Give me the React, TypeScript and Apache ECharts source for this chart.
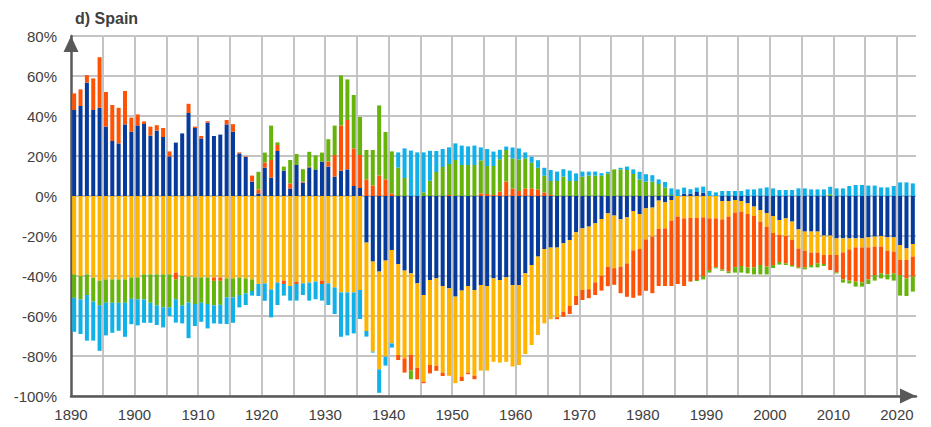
import React, { useEffect, useRef } from "react";
import * as echarts from "echarts";

const startYear = 1890;
const endYear = 2022;
const years: number[] = Array.from({ length: endYear - startYear + 1 }, (_, i) => startYear + i);

const xTickLabels = ["1890", "1900", "1910", "1920", "1930", "1940", "1950", "1960", "1970", "1980", "1990", "2000", "2010", "2020"];

// dark blue component
const blueVals = [
  43, 45, 56.7, 43, 44.2, 34.7, 27.5, 26.3, 35.8, 32.2,
  35.3, 36, 30.2, 32.7, 29.5, 19.8, 26.7, 31.3, 41.5, 34,
  28.8, 36.7, 30, 30.7, 35.8, 32.2, 21.3, 19.5, 7.2, 1.3,
  14.2, 9.2, 22.5, 12.7, 3.8, 15.5, 6.7, 14.3, 13.3, 17.2,
  14.7, 9.7, 12.7, 13.3, 5, 4, -23.3, -32.8, -37.8, -32.3,
  -27, -34, -37.3, -38.7, -43.7, -49.5, -42, -41.2, -45, -46.2,
  -50.3, -47.3, -45, -47, -44.5, -45, -41.2, -42, -40.7, -44.5,
  -44.5, -38.7, -34.5, -30.3, -26.5, -25.8, -25.8, -23.7, -22, -18.2,
  -16.2, -15.3, -13.7, -11.5, -8.7, -9.8, -11.7, -10.7, -7.5, -9,
  -6.2, -5.8, -2.3, -3.2, -2, 0, 1.2, 1.2, 2, 1.7,
  0, 0, -2.5, -2.5, -2, -2.5, -3.7, -5.3, -7, -8.5,
  -10, -12, -11.2, -12.8, -16.7, -17.8, -17.8, -17.8, -19.8, -19.8,
  -21.2, -21.2, -21.2, -21.2, -21.2, -20.7, -20.3, -20, -20.7, -20.7,
  -24.5, -26.2, -24,
];

// yellow component
const yellowVals = [
  -39.2, -40, -39.2, -40.8, -42.3, -41.7, -41.7, -41.7, -41.7, -40.7,
  -40.7, -39.2, -39.2, -39.2, -39.2, -39.2, -38.3, -40, -40.3, -40.7,
  -40.7, -40.7, -40.7, -40.7, -41.2, -41.2, -40.7, -41.2, -41.7, -44,
  -43.7, -46.7, -43.3, -42.3, -45, -42.8, -43.7, -43.3, -42.8, -42.3,
  -43.7, -45.7, -48.2, -48.2, -48.2, -47, -44.2, -45, -48.9, -48,
  -46.7, -45.5, -43.9, -40.8, -42.2, -43.3, -42.5, -43.7, -43.3, -43.7,
  -43.3, -43, -43.3, -42.8, -42.8, -42.3, -41.7, -41.3, -42.2, -40.8,
  -40, -40.3, -40, -39.2, -37.2, -35.8, -34.8, -34.2, -33, -31.8,
  -30.8, -31.3, -29.5, -28.3, -26.7, -26.3, -23.6, -23, -19.7, -17.5,
  -15.5, -14.5, -14.2, -13, -10.3, -10.3, -11.2, -11, -11, -10.7,
  -11.2, -11.2, -9.2, -7.8, -6.3, -5.3, -5.3, -4.7, -5.8, -7,
  -8.5, -7.5, -8.8, -9.2, -9.6, -9.5, -10.5, -10.5, -9.7, -9.7,
  -8.3, -7, -5.5, -4.5, -4.5, -5, -5, -5.3, -6.6, -7.1,
  -7.5, -5.8, -6.3,
];

// orange-red component
const orangeVals = [
  8.3, 8.3, 3.7, 15.8, 25.2, 17.3, 18, 17.8, 16.7, 7,
  5.5, 1.3, 4.5, 2.7, 4.5, 2.5, -3.3, 0, 4.6, 0.7,
  1.2, 0.7, -1.7, -1.7, 2.2, 3.7, 0.5, 0.3, 3, 2,
  2.5, 8.8, 3, -1.7, 2.5, -1.2, 0.5, 0.3, 0, -1.7,
  2.5, 10.8, 22.6, 24.7, 18.8, 16.5, 8.3, 5.3, 10.3, 8.3,
  1.3, -2.5, -7.1, -7.8, -5.8, -0.8, -4.2, -2.5, -1.7, 0.5,
  0, -2.2, -0.8, -1.8, 1.3, 1, 0.5, 2.2, 7.2, 3.8,
  2.5, 3.8, 3.8, 3.3, 1.8, 0.5, -1, -2.5, -4, -4.5,
  -5, -4.5, -6.3, -7.5, -9.7, -8.3, -13.3, -16.7, -23.7, -23.3,
  -25.7, -28.3, -28.5, -28.8, -32.7, -33.7, -33.8, -31.8, -31, -29.3,
  -25.8, -24.5, -25, -27.5, -27.3, -27.2, -26.7, -25.7, -21.7, -19.8,
  -16, -13.5, -13.7, -12.5, -9.4, -8.4, -6.2, -5.4, -4.5, -7.5,
  -8.7, -13.5, -15.6, -17.1, -17.5, -16, -14.2, -13.4, -11.9, -10.9,
  -7.5, -9.2, -10,
];

// green component
const greenVals = [
  -11.7, -11.7, -10.3, -12, -12.3, -11.7, -11.7, -11.7, -11.7, -10.7,
  -11, -12.5, -14.2, -15.5, -16.5, -16.5, -10, -14.7, -13, -13.3,
  -12.7, -13.3, -12.3, -12, -9.5, -9.5, -8.8, -7.5, -5.8, 8.8,
  5, 17.2, 1.3, 2, 11.7, 5.5, 6.2, 7.5, 7, 4.5,
  11.2, 14.7, 25, 20.3, 26.7, 19, 14.7, 17.7, 35, 23.7,
  21, 14.2, 9, -4.3, 0, 1.8, 7.6, 12, 14.5, 15.5,
  18, 15.5, 15.5, 15.5, 16.5, 14, 14.5, 16.2, 15.8, 15,
  15.8, 15, 12.8, 10.8, 8.3, 7, 7.5, 9.7, 7.5, 7.5,
  9.7, 10.2, 10.2, 10.2, 11.3, 13.3, 13.3, 13, 11, 8.3,
  7.2, 7.2, 6, 4.3, 0.5, 0, 0, 0, -0.5, -1.7,
  -1.3, -0.5, -0.7, -0.8, -2.7, -3.3, -3, -3.5, -4.7, -3.9,
  -1.5, -1.3, -0.8, -0.8, -0.5, -1, -1.2, -2, -1, 0.8,
  -0.5, -1.6, -1.4, -2.5, -2.1, -2.3, -2.8, -2.5, -2.5, -3.6,
  -10.3, -8.8, -7.5,
];

// light blue component
const lightBlueVals = [
  -17, -17.3, -22.8, -19.5, -22.8, -16.3, -15, -14, -17, -12.7,
  -13, -11.7, -10, -9.8, -10, -4.3, -11.7, -9, -17.8, -11,
  -9.5, -12.2, -9, -9.5, -13.3, -12.7, -6.2, -5.8, -2.3, -6,
  -8.7, -14, -11.2, -5.8, -7.3, -8.3, -5.8, -9, -8.8, -8.3,
  -10.8, -13.3, -22.2, -21.5, -20.5, -14.5, -2.8, -0.5, -11.7, -4.5,
  -2.1, 7.6, 14.8, 22.7, 21.8, 20, 15, 10.5, 9, 8.3,
  8.3, 9.7, 9.3, 9.7, 6.5, 8.5, 7.2, 4.7, 1.7, 5.5,
  5.5, 3, 3, 3.8, 4, 5.5, 4.7, 3.7, 5.2, 3.8,
  2.5, 2, 2, 1.2, 0.8, 0, 0.8, 1.7, 2.3, 3.8,
  3.7, 3.2, 2.3, 2.7, 3.3, 3.3, 3, 2.2, 2.2, 3,
  2.5, 1.8, 2.5, 2.5, 2.5, 2.5, 3.3, 3.3, 3.8, 4.3,
  3.8, 3, 3, 3, 3.8, 3.8, 3.3, 3.3, 3.3, 3.8,
  3.8, 3.8, 5, 5.5, 5.5, 5.2, 5.2, 4.3, 4.3, 5,
  6.8, 6.8, 6.3,
];

const seriesDefs = [
  { name: "blue", values: blueVals, color: "#063a9b" },
  { name: "yellow", values: yellowVals, color: "#ffb400" },
  { name: "orange", values: orangeVals, color: "#ff5205" },
  { name: "green", values: greenVals, color: "#66b30a" },
  { name: "lightblue", values: lightBlueVals, color: "#10b0e8" },
];

const FONT = "'Liberation Sans', Arial, sans-serif";

export default function App() {
  const ref = useRef<HTMLDivElement>(null);
  useEffect(() => {
    document.body.style.margin = "0";
    if (!ref.current) return;
    const chart = echarts.init(ref.current, null, { renderer: "svg" });
    const axisLineStyle = { color: "#595959", width: 2.5 };
    chart.setOption({
      animation: false,
      backgroundColor: "#ffffff",
      title: {
        text: "d) Spain",
        left: 70,
        top: 5,
        textStyle: { fontFamily: FONT, fontSize: 16, fontWeight: "bold", color: "#404040" },
      },
      grid: { left: 71, right: 15, top: 36, bottom: 31 },
      xAxis: [
        {
          type: "category",
          data: years.map(String),
          boundaryGap: true,
          position: "bottom",
          axisLine: {
            show: true,
            onZero: false,
            lineStyle: axisLineStyle,
            symbol: ["none", "triangle"],
            symbolSize: [15, 16],
            symbolOffset: [0, -8],
          },
          axisTick: { show: false },
          axisLabel: { show: false },
          splitLine: { show: false },
          z: 5,
        },
        {
          type: "value",
          min: 1890,
          max: 2023,
          interval: 5,
          position: "bottom",
          axisLine: { show: false, onZero: false },
          axisTick: { show: false },
          axisLabel: {
            show: true,
            margin: 11,
            color: "#404040",
            fontSize: 15,
            fontFamily: FONT,
            showMaxLabel: false,
            formatter: (v: number) => (xTickLabels.includes(String(v)) ? String(v) : ""),
          },
          splitLine: {
            show: true,
            showMinLine: false,
            showMaxLine: false,
            lineStyle: { color: "#c4c4c4", width: 2 },
          },
        },
      ],
      yAxis: {
        type: "value",
        min: -100,
        max: 80,
        interval: 20,
        axisLine: {
          show: true,
          onZero: false,
          lineStyle: axisLineStyle,
          symbol: ["none", "triangle"],
          symbolSize: [15, 16],
          symbolOffset: [0, -8],
        },
        axisTick: { show: false },
        axisLabel: {
          margin: 14,
          color: "#404040",
          fontSize: 15,
          fontFamily: FONT,
          formatter: "{value}%",
        },
        splitLine: { show: true, lineStyle: { color: "#c4c4c4", width: 2 } },
      },
      series: seriesDefs.map((s) => ({
        name: s.name,
        type: "bar",
        stack: "total",
        xAxisIndex: 0,
        barWidth: 4,
        itemStyle: { color: s.color },
        data: s.values,
      })),
    });
    return () => chart.dispose();
  }, []);
  return <div ref={ref} style={{ width: 931, height: 427 }} />;
}
